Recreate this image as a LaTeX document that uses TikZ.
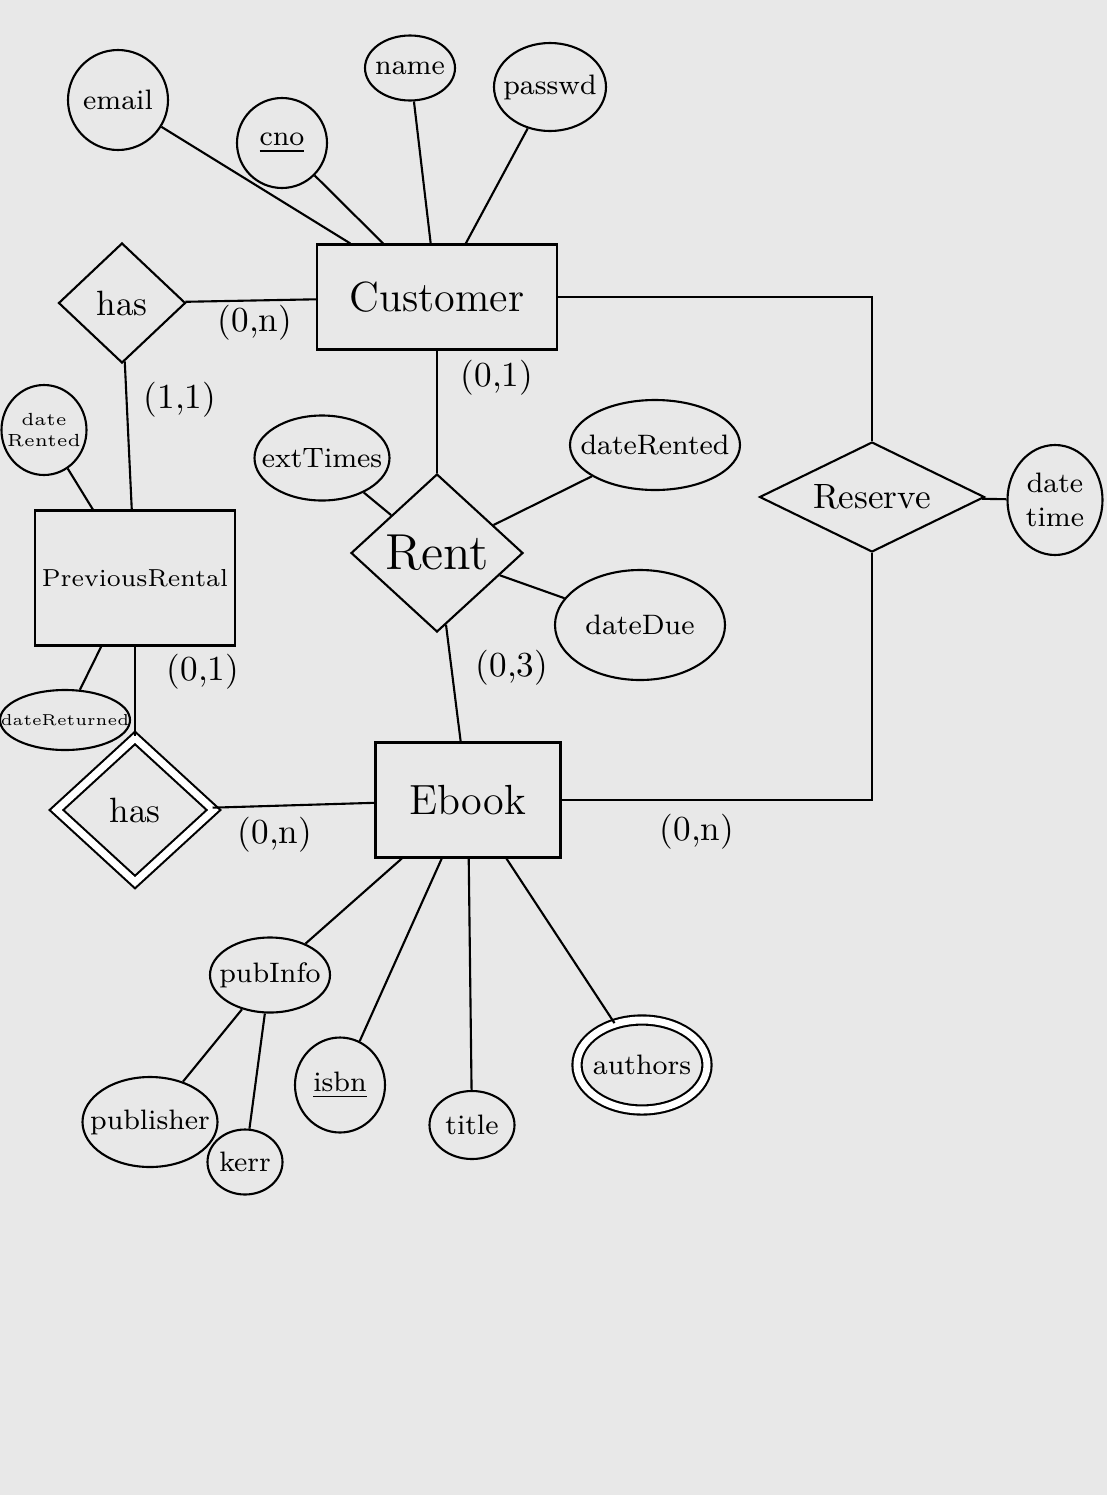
\documentclass[tikz,border=0pt]{standalone}
\usepackage{tikz}
\usetikzlibrary{shapes.geometric, positioning}

\begin{document}
\begin{tikzpicture}[line width=0.6pt,
    entity/.style={draw, rectangle, inner sep=2pt, font=\large},
    attr/.style={draw, ellipse, inner sep=-0.5cm, font=\footnotesize},
    rel/.style={draw, diamond, inner sep=0pt, font=\normalsize},
    card/.style={font=\normalsize}]
        % Paper
        \fill[black!9] (0,0) rectangle (11.07,-14.95);
        \useasboundingbox (0,0) rectangle (11.07,-14.95);

        % Entities
        \node[entity, minimum width=2.4cm, minimum height=1.05cm] (customer) at (4.37,-2.97) {Customer};
        \node[entity, minimum width=2.0cm, minimum height=1.35cm, font=\scriptsize] (prev) at (1.35,-5.78) {PreviousRental};
        \node[entity, minimum width=1.85cm, minimum height=1.15cm] (ebook) at (4.68,-8.00) {Ebook};

        % Relationships
        \node[rel, minimum width=1.27cm, minimum height=1.2cm] (has1) at (1.22,-3.03) {has};
        \node[rel, minimum width=1.72cm, minimum height=1.58cm, font=\Large] (rent) at (4.37,-5.53) {Rent};
        \node[rel, aspect=2.2, minimum width=2.25cm, minimum height=1.1cm] (reserve) at (8.72,-4.97) {Reserve};
        \node[rel, double, double distance=2pt, minimum width=1.58cm, minimum height=1.45cm] (has2) at (1.35,-8.10) {has};

        % Customer attributes
        \node[attr, minimum width=1.0cm, minimum height=1.0cm] (email) at (1.18,-1.00) {email};
        \node[attr, minimum width=0.9cm, minimum height=0.9cm] (cno) at (2.82,-1.43) {\underline{cno}};
        \node[attr, minimum width=0.9cm, minimum height=0.65cm] (name) at (4.10,-0.68) {name};
        \node[attr, minimum width=1.12cm, minimum height=0.88cm] (passwd) at (5.50,-0.87) {passwd};

        % Rent and Reserve attributes
        \node[attr, minimum width=1.35cm, minimum height=0.85cm] (exttimes) at (3.22,-4.58) {extTimes};
        \node[attr, minimum width=1.7cm, minimum height=0.9cm] (rented) at (6.55,-4.45) {dateRented};
        \node[attr, minimum width=1.7cm, minimum height=1.1cm] (due) at (6.40,-6.25) {dateDue};
        \node[attr, minimum width=0.95cm, minimum height=1.1cm, align=center] (datetime) at (10.55,-5.00) {date\\time};

        % PreviousRental attributes
        \node[attr, minimum width=0.85cm, minimum height=0.9cm, align=center, font=\tiny] (prevrented) at (0.44,-4.30) {date\\Rented};
        \node[attr, minimum width=1.3cm, minimum height=0.6cm, font=\fontsize{4.5pt}{5pt}\selectfont] (returned) at (0.65,-7.20) {dateReturned};

        % Ebook attributes
        \node[attr, minimum width=1.2cm, minimum height=0.75cm] (pubinfo) at (2.70,-9.75) {pubInfo};
        \node[attr, minimum width=1.35cm, minimum height=0.9cm] (publisher) at (1.50,-11.22) {publisher};
        \node[attr, minimum width=0.75cm, minimum height=0.65cm] (kerr) at (2.45,-11.62) {kerr};
        \node[attr, minimum width=0.9cm, minimum height=0.95cm] (isbn) at (3.40,-10.85) {\underline{isbn}};
        \node[attr, minimum width=0.85cm, minimum height=0.68cm] (title) at (4.72,-11.25) {title};
        \node[attr, double, double distance=2pt, minimum width=1.3cm, minimum height=0.9cm] (authors) at (6.42,-10.65) {authors};

        % Cardinalities
        \node[card] (c1) at (2.55,-3.23) {(0,n)};
        \node[card] (c2) at (1.80,-4.00) {(1,1)};
        \node[card] (c3) at (4.97,-3.78) {(0,1)};
        \node[card] (c4) at (2.03,-6.72) {(0,1)};
        \node[card] (c5) at (5.12,-6.68) {(0,3)};
        \node[card] (c6) at (2.75,-8.35) {(0,n)};
        \node[card] (c7) at (6.97,-8.32) {(0,n)};

        % Lines
        \foreach \a in {email, cno, name, passwd} {
            \draw (\a) -- (customer);
        }
        \foreach \a in {exttimes, rented, due} {
            \draw (\a) -- (rent);
        }
        \foreach \a in {pubinfo, isbn, title, authors} {
            \draw (\a) -- (ebook);
        }
        \draw (publisher) -- (pubinfo);
        \draw (kerr) -- (pubinfo);
        \draw (prevrented) -- (prev);
        \draw (returned) -- (prev);
        \draw (reserve) -- (datetime);

        \draw (has1) -- (customer);
        \draw (has1) -- (prev);
        \draw (prev) -- (has2);
        \draw (has2) -- (ebook);
        \draw (customer) -- (rent);
        \draw (rent) -- (ebook);
        \draw (customer.east) -| (reserve.north);
        \draw (reserve.south) |- (ebook.east);
    \end{tikzpicture}
\end{document}
